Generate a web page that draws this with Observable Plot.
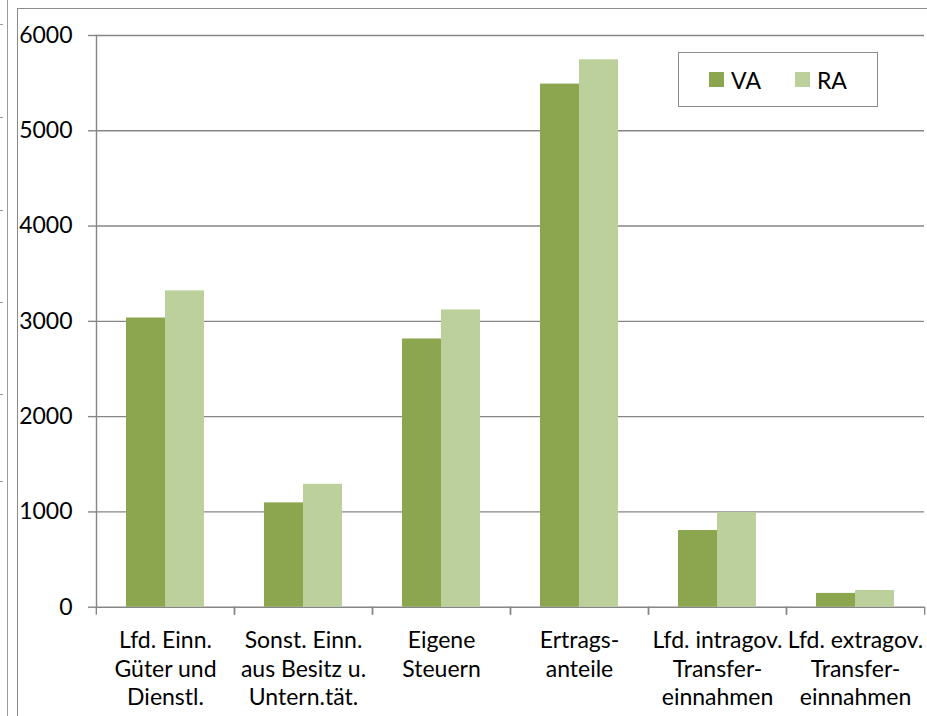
<!DOCTYPE html>
<html>
<head>
<meta charset="utf-8">
<script src="https://cdn.jsdelivr.net/npm/d3@7"></script>
<script src="https://cdn.jsdelivr.net/npm/@observablehq/plot@0.6"></script>
<style>
  body { margin: 0; background: #fff; font-family: Lato, "Open Sans", sans-serif; }
  #wrap { position: relative; width: 927px; height: 716px; overflow: hidden; background: #fff; }
  #border { position: absolute; left: 17px; top: 8px; width: 940px; height: 740px; border: 1.5px solid #8c8c8c; box-sizing: border-box; }
  #sideline { position: absolute; left: 7px; top: 0; width: 0; height: 716px; border-left: 1.5px solid #9a9a9a; }
  .sidetick { position: absolute; left: 0; width: 3px; height: 0; border-top: 1.5px solid #9a9a9a; }
  #chart { position: absolute; left: 0; top: 0; }
  #legend { position: absolute; left: 678px; top: 52px; width: 200px; height: 55px; box-sizing: border-box;
            border: 1.5px solid #8c8c8c; background: #fff; display: flex; align-items: center; justify-content: center; gap: 34px;
            font-family: Lato, sans-serif; font-size: 23px; color: #000; }
  .item { display: flex; align-items: center; gap: 7px; }
  .sw { width: 15px; height: 15px; display: inline-block; }
</style>
</head>
<body>
<div id="wrap">
  <div id="sideline"></div>
  <div id="border"></div>
  <div id="chart"></div>
  <div id="legend"></div>
</div>
<script>
// ---- data ----
const categories = [
  "Lfd. Einn.\nGüter und\nDienstl.",
  "Sonst. Einn.\naus Besitz u.\nUntern.tät.",
  "Eigene\nSteuern",
  "Ertrags-\nanteile",
  "Lfd. intragov.\nTransfer-\neinnahmen",
  "Lfd. extragov.\nTransfer-\neinnahmen"
];
const series = ["VA", "RA"];
const vaValues = [3035, 1095, 2815, 5490, 805, 145];
const raValues = [3320, 1290, 3120, 5745, 995, 175];
const seriesColors = ["#8BA64F", "#BBD09A"];
const yTicks = [0, 1000, 2000, 3000, 4000, 5000, 6000];
const sideTickYs = [24, 117, 210, 302, 394, 481];

const data = categories.flatMap((c, i) => [
  {category: c, series: "VA", value: vaValues[i]},
  {category: c, series: "RA", value: raValues[i]}
]);

const W = 927, H = 716, mL = 95, mR = 2, mT = 35, mB = 109.3;
const half = (W - mL - mR) / categories.length / 2;
const gray = "#868686";

const chart = Plot.plot({
  width: W, height: H,
  marginLeft: mL, marginRight: mR, marginTop: mT, marginBottom: mB,
  style: {fontFamily: "Lato, sans-serif", fontSize: "23px", color: "#000", background: "transparent", overflow: "visible"},
  fx: {domain: categories, padding: 0, axis: null},
  x: {domain: series, paddingInner: 0, paddingOuter: 0.75, axis: null},
  y: {domain: [0, 6000], axis: null},
  color: {domain: series, range: seriesColors},
  marks: [
    Plot.gridY(yTicks, {stroke: gray, strokeOpacity: 1, strokeWidth: 1.4}),
    Plot.barY(data, {fx: "category", x: "series", y: "value", fill: "series"}),
    Plot.frame({anchor: "left", facetAnchor: "left", stroke: gray, strokeWidth: 1.4}),
    Plot.axisY(yTicks, {anchor: "left", label: null, tickSize: 8, tickPadding: 16, stroke: gray, strokeWidth: 1.4, fill: "#000", fontSize: 23, tickFormat: d => String(d)}),
    Plot.axisFx({anchor: "bottom", label: null, tickSize: 8, dx: -half, stroke: gray, strokeWidth: 1.4, tickFormat: () => ""}),
    Plot.axisFx({anchor: "bottom", label: null, tickSize: 8, dx: half, stroke: gray, strokeWidth: 1.4, tickFormat: () => ""}),
    Plot.axisFx({anchor: "bottom", label: null, tickSize: 0, tickPadding: 21, lineHeight: 1.24, fill: "#000", fontSize: 23})
  ]
});
document.getElementById("chart").appendChild(chart);

// legend
const legend = document.getElementById("legend");
series.forEach((s, i) => {
  const it = document.createElement("div");
  it.className = "item";
  const sw = document.createElement("span");
  sw.className = "sw";
  sw.style.background = seriesColors[i];
  const t = document.createElement("span");
  t.textContent = s;
  it.appendChild(sw); it.appendChild(t);
  legend.appendChild(it);
});

// stray marks on the left edge
const wrap = document.getElementById("wrap");
sideTickYs.forEach(y => {
  const d = document.createElement("div");
  d.className = "sidetick";
  d.style.top = y + "px";
  wrap.appendChild(d);
});
</script>
</body>
</html>
